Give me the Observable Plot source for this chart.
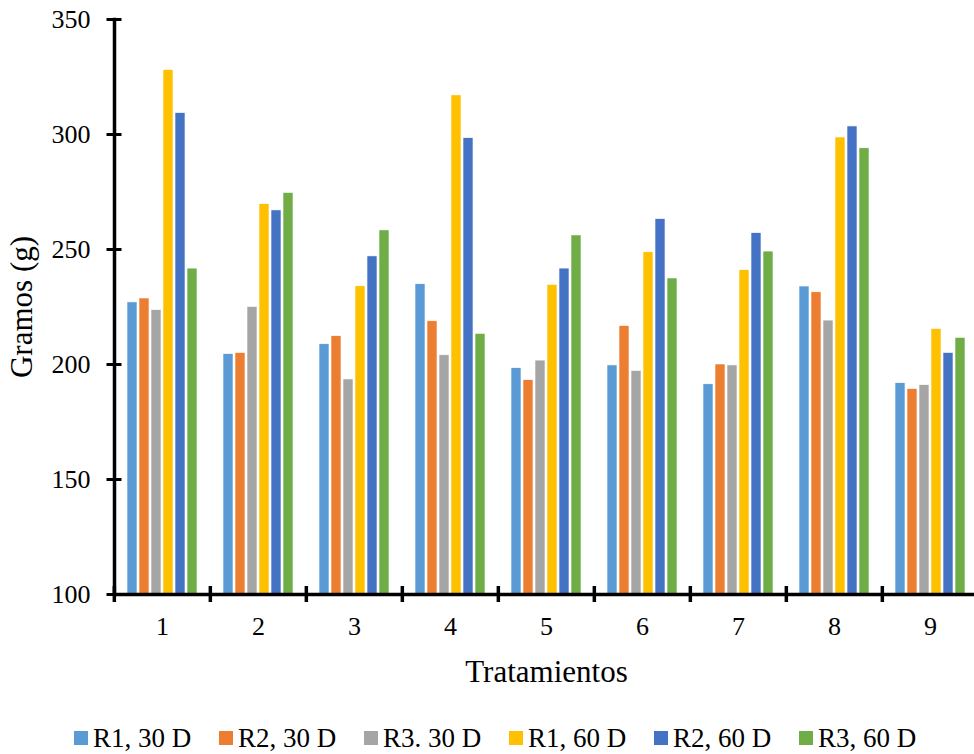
<!DOCTYPE html>
<html><head><meta charset="utf-8">
<script src="https://cdn.jsdelivr.net/npm/d3@7"></script>
<script src="https://cdn.jsdelivr.net/npm/@observablehq/plot@0.6"></script>
<style>
body{margin:0;background:#fff;overflow:hidden;width:974px;height:754px;font-family:"Liberation Serif","Times New Roman",serif;}
#legend{display:flex;padding-left:74px;margin-top:34px;height:28px;line-height:28px;font-size:27px;color:#000;}
.item{width:145px;white-space:nowrap;}
.sw{display:inline-block;width:14px;height:14px;margin-right:5px;position:relative;top:-2px;}
</style></head><body>
<div id="chart"></div><div id="legend"></div>
<script>
const treatments = ["1","2","3","4","5","6","7","8","9"];
const seriesNames = ["R1, 30 D","R2, 30 D","R3. 30 D","R1, 60 D","R2, 60 D","R3, 60 D"];
const seriesColors = ["#5B9BD5","#ED7D31","#A5A5A5","#FFC000","#4472C4","#70AD47"];
const r1_30d = [227.0, 204.5, 208.8, 234.9, 198.4, 199.6, 191.4, 233.9, 191.9];
const r2_30d = [228.7, 205.0, 212.3, 218.8, 193.2, 216.7, 200.0, 231.4, 189.3];
const r3_30d = [223.6, 225.0, 193.5, 204.0, 201.7, 197.2, 199.6, 219.1, 191.0];
const r1_60d = [328.0, 269.7, 234.0, 317.0, 234.6, 248.8, 241.0, 298.7, 215.4];
const r2_60d = [309.3, 267.0, 247.0, 298.4, 241.7, 263.2, 257.1, 303.5, 205.0];
const r3_60d = [241.7, 274.6, 258.3, 213.3, 256.1, 237.4, 249.1, 294.0, 211.6];
const yTicks = [100, 150, 200, 250, 300, 350];
const yTitle = "Gramos (g)";
const xTitle = "Tratamientos";

const seriesValues = [r1_30d, r2_30d, r3_30d, r1_60d, r2_60d, r3_60d];
const data = seriesNames.flatMap((s, i) => treatments.map((t, j) => ({t, s, v: seriesValues[i][j]})));

const W = 974, H = 690, mL = 112, mR = -5;
const band = (W - mL - mR) / treatments.length;

const chart = Plot.plot({
  width: W, height: H,
  marginLeft: mL, marginRight: mR, marginTop: 19, marginBottom: 96,
  style: {fontFamily: "Liberation Serif, Times New Roman, serif", fontSize: "26px", color: "#000", background: "#fff", overflow: "visible"},
  fx: {domain: treatments, padding: 0},
  x: {domain: seriesNames, paddingInner: 0.2, paddingOuter: 0.845, axis: null},
  y: {domain: [100, 350]},
  color: {domain: seriesNames, range: seriesColors},
  marks: [
    Plot.barY(data, {fx: "t", x: "s", y1: 100, y2: "v", fill: "s", stroke: "#fff", strokeWidth: 0.6}),
    Plot.ruleY([100], {stroke: "#000", strokeWidth: 3.5}),
    Plot.frame({anchor: "left", stroke: "#000", strokeWidth: 3.5, facetAnchor: "left"}),
    Plot.axisY({ticks: yTicks, tickSize: 15, dx: 7.5, stroke: "#000", strokeWidth: 3, fill: "none"}),
    Plot.axisY({ticks: yTicks, tickSize: 0, tickPadding: 24, fontSize: 26, fill: "#000", label: null}),
    Plot.axisY({ticks: [], tickSize: 0, label: yTitle, labelArrow: "none", labelAnchor: "center", labelOffset: 105, dy: -22, fontSize: 31, fill: "#000"}),
    Plot.axisFx({anchor: "bottom", tickSize: 16, dx: -band / 2, dy: -8, stroke: "#000", strokeWidth: 3.5, fill: "none"}),
    Plot.axisFx({anchor: "bottom", tickSize: 0, tickPadding: 22, fontSize: 26, fill: "#000", label: null}),
    Plot.axisFx({anchor: "bottom", ticks: [], tickSize: 0, label: xTitle, labelArrow: "none", labelAnchor: "center", labelOffset: 87, fontSize: 31, fill: "#000"})
  ]
});
document.getElementById("chart").appendChild(chart);

const legend = d3.select("#legend");
seriesNames.forEach((s, i) => {
  const it = legend.append("div").attr("class", "item");
  it.append("span").attr("class", "sw").style("background", seriesColors[i]);
  it.append("span").text(s);
});
</script></body></html>
